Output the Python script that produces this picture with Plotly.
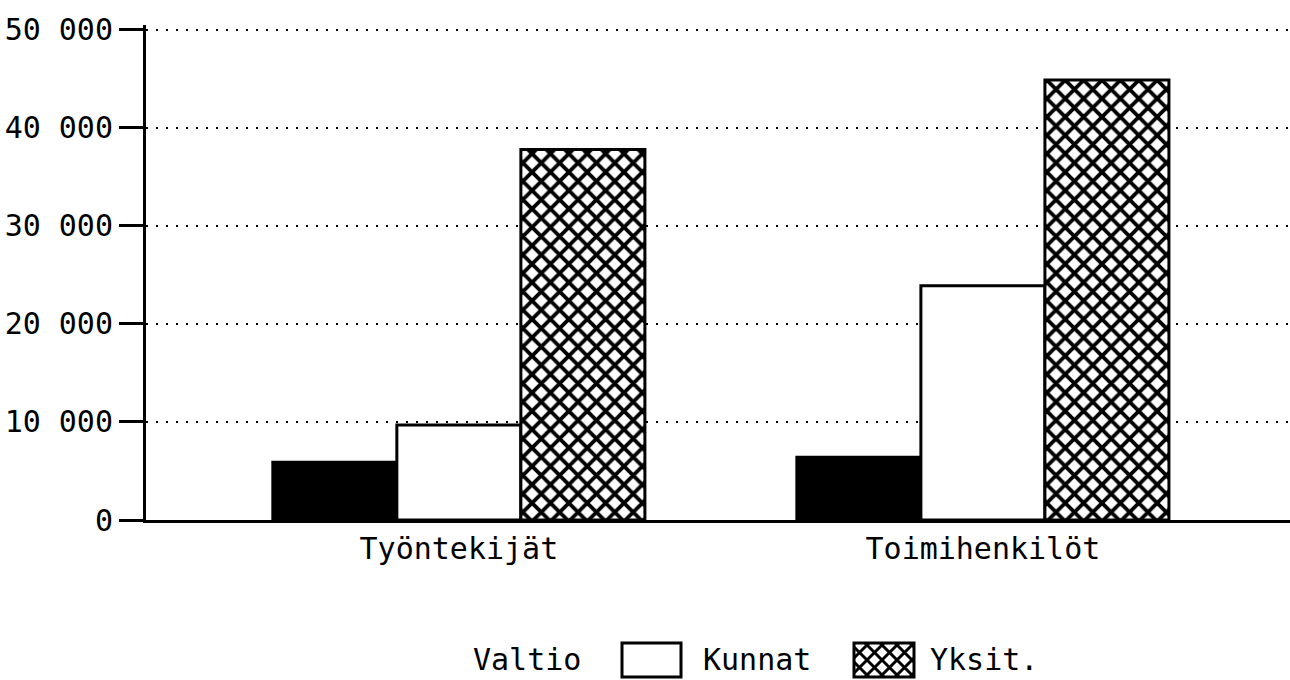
import plotly.graph_objects as go

categories = ["Työntekijät", "Toimihenkilöt"]
series_names = ["Valtio", "Kunnat", "Yksit."]
valtio = [5900, 6400]
kunnat = [9700, 23900]
yksit = [37800, 44900]
y_tick_values = [0, 10000, 20000, 30000, 40000, 50000]

W, H = 1290, 680
L, R, T, B = 146, 0, 25, 160
PW, PH = W - L - R, H - T - B
FONT = "DejaVu Sans Mono"
FS = 30


def px(x):
    return (x - L) / PW


def py(y):
    return (H - B - y) / PH


line_style = dict(color="black", width=3)

fig = go.Figure()
fig.add_bar(x=categories, y=valtio, name=series_names[0],
            marker=dict(color="black", line=line_style))
fig.add_bar(x=categories, y=kunnat, name=series_names[1],
            marker=dict(color="white", line=line_style))
fig.add_bar(x=categories, y=yksit, name=series_names[2],
            marker=dict(color="white", line=line_style,
                        pattern=dict(shape="x", fgcolor="black", bgcolor="white",
                                     fgopacity=1, size=13, solidity=0.5)))

fig.update_layout(
    width=W, height=H,
    margin=dict(l=L, r=R, t=T, b=B, autoexpand=False),
    paper_bgcolor="white", plot_bgcolor="white",
    barmode="group", bargap=0.29, bargroupgap=0,
    showlegend=False,
    separators=". ",
    font=dict(family=FONT, size=FS, color="black"),
)
fig.update_xaxes(
    range=[-0.597, 1.586], showline=True, linecolor="black", linewidth=3,
    ticks="", showgrid=False, tickfont=dict(size=FS), automargin=False,
)
fig.update_yaxes(
    range=[0, 50500], tickvals=y_tick_values, tickformat=",d",
    showline=True, linecolor="black", linewidth=3,
    ticks="outside", ticklen=24, tickwidth=3, tickcolor="black",
    showgrid=True, gridcolor="black", gridwidth=2, griddash="2px,8px",
    zeroline=False, tickfont=dict(size=FS), automargin=False,
)

# custom legend
leg_y = 659
for name, cxl in zip(series_names, [527, 757, 984]):
    fig.add_annotation(x=px(cxl), y=py(leg_y), xref="paper", yref="paper",
                       text=name, showarrow=False,
                       font=dict(size=FS), xanchor="center", yanchor="middle")

# white swatch
fig.add_shape(type="rect", xref="paper", yref="paper",
              x0=px(622), x1=px(681), y0=py(643), y1=py(677),
              fillcolor="white", line=dict(color="black", width=3))

# hatched swatch
cx, cy, hw, hh = 884, 660, 30, 17
segs = []
step = 15
c = -(hw + hh)
while c <= hw + hh:
    xa, xb = max(-hw, -hh + c), min(hw, hh + c)
    if xa < xb:
        segs.append(f"M{xa},{xa - c}L{xb},{xb - c}")
    xa, xb = max(-hw, c - hh), min(hw, c + hh)
    if xa < xb:
        segs.append(f"M{xa},{c - xa}L{xb},{c - xb}")
    c += step
fig.add_shape(type="rect", xref="paper", yref="paper",
              x0=px(cx - hw), x1=px(cx + hw), y0=py(cy + hh), y1=py(cy - hh),
              fillcolor="white", line=dict(width=0))
fig.add_shape(type="path", xref="paper", yref="paper",
              xsizemode="pixel", ysizemode="pixel",
              xanchor=px(cx), yanchor=py(cy),
              path="".join(segs), line=dict(color="black", width=3))
fig.add_shape(type="rect", xref="paper", yref="paper",
              x0=px(cx - hw), x1=px(cx + hw), y0=py(cy + hh), y1=py(cy - hh),
              fillcolor="rgba(0,0,0,0)", line=dict(color="black", width=3))

fig.write_html("out.html",
               config={"displayModeBar": False},
               post_script="document.body.style.margin='0';document.body.style.overflow='hidden';")
